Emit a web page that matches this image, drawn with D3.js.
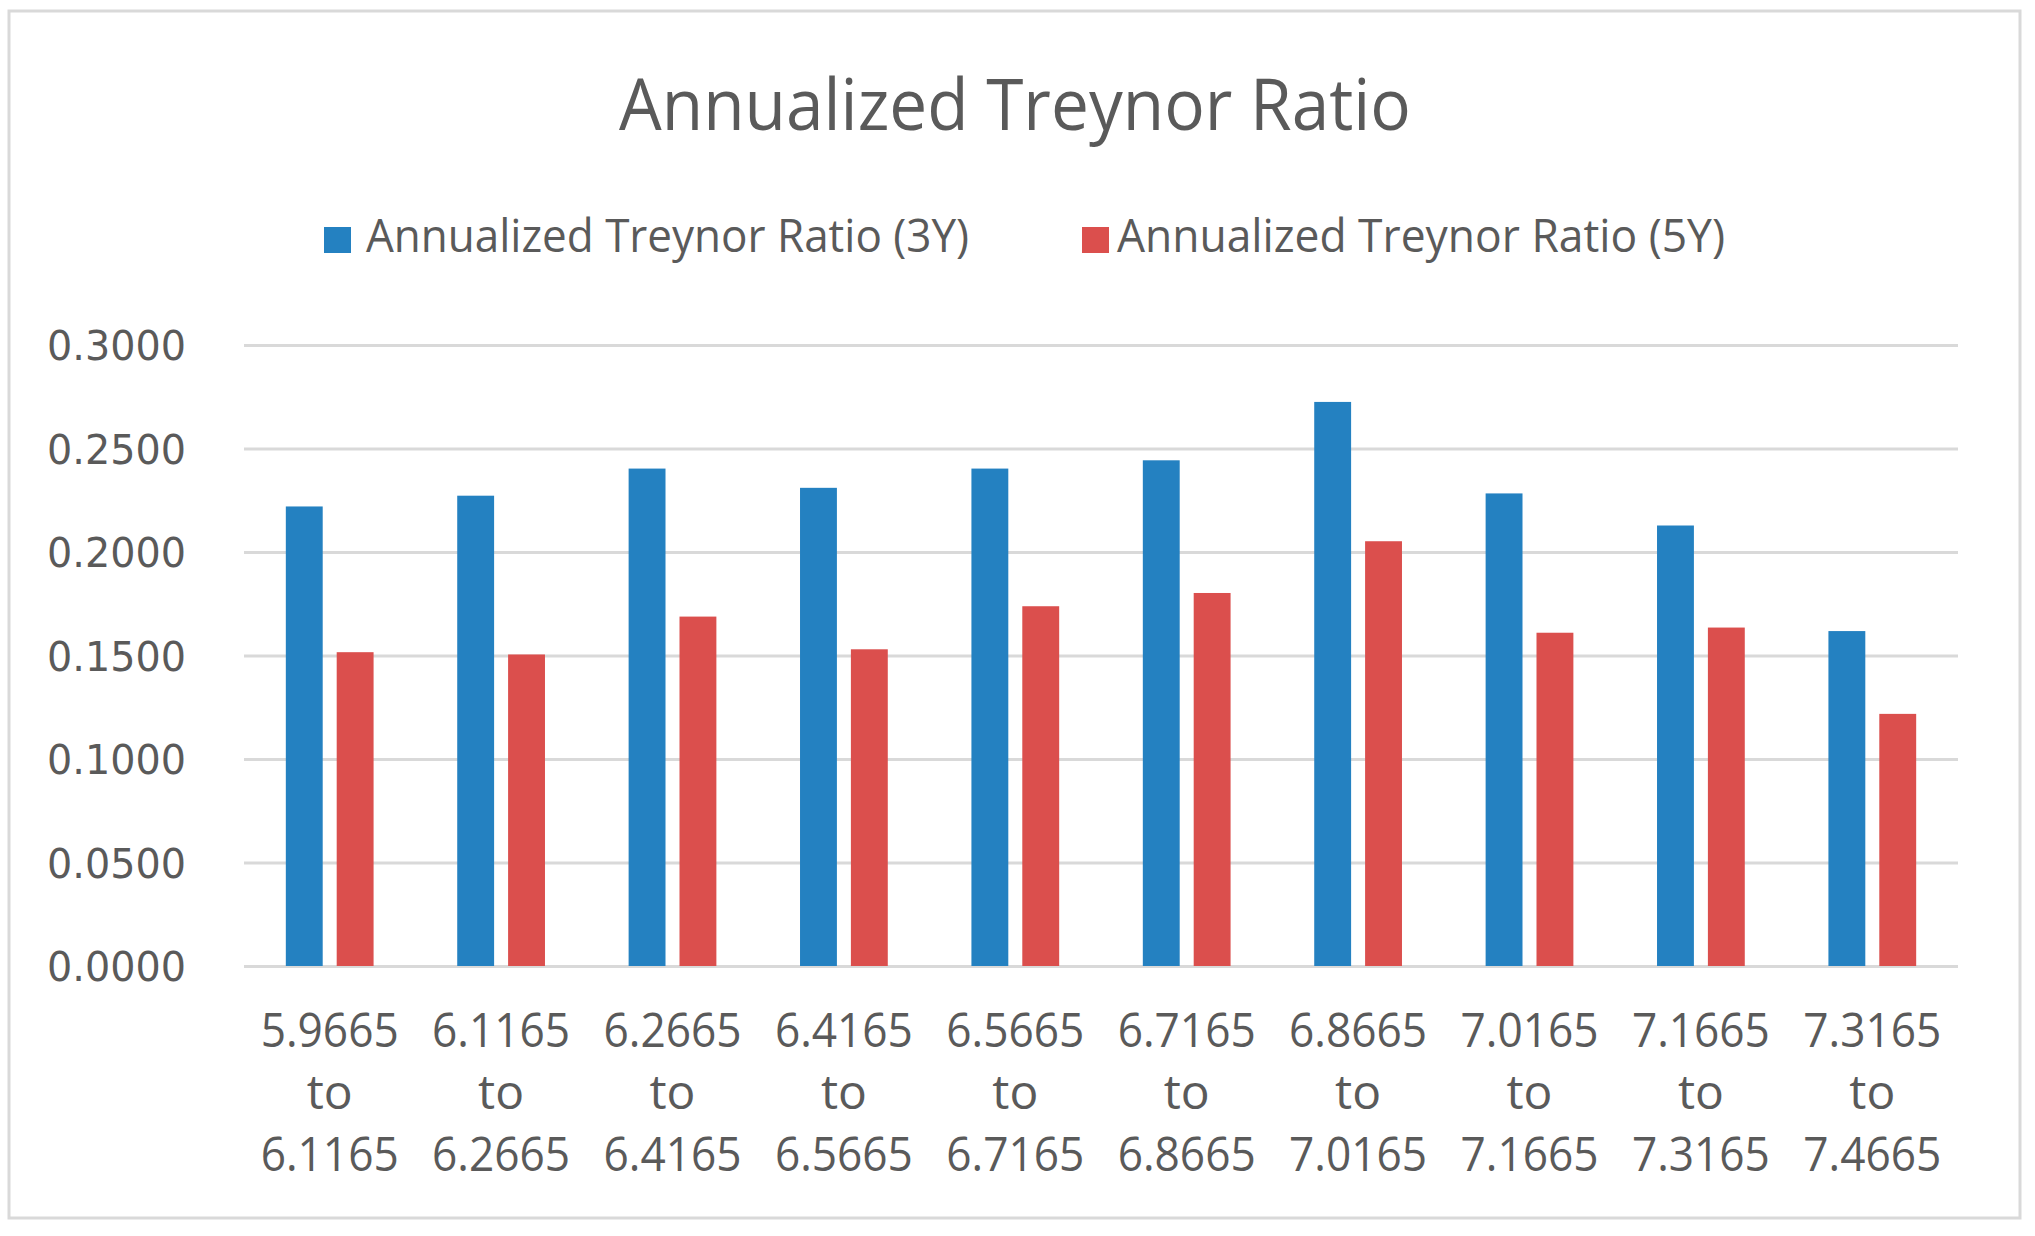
<!DOCTYPE html>
<html>
<head>
<meta charset="utf-8">
<script src="https://cdn.jsdelivr.net/npm/d3@7"></script>
<style>
  html, body { margin: 0; padding: 0; background: #fff; }
  svg { display: block; }
</style>
</head>
<body>
<div id="chart"></div>
<script>
// data
const categories = [
  ['5.9665', 'to', '6.1165'],
  ['6.1165', 'to', '6.2665'],
  ['6.2665', 'to', '6.4165'],
  ['6.4165', 'to', '6.5665'],
  ['6.5665', 'to', '6.7165'],
  ['6.7165', 'to', '6.8665'],
  ['6.8665', 'to', '7.0165'],
  ['7.0165', 'to', '7.1665'],
  ['7.1665', 'to', '7.3165'],
  ['7.3165', 'to', '7.4665']
];
const seriesNames = ['Annualized Treynor Ratio (3Y)', 'Annualized Treynor Ratio (5Y)'];
const values3Y = [0.2220, 0.2272, 0.2403, 0.2310, 0.2403, 0.2443, 0.2725, 0.2283, 0.2128, 0.1618];
const values5Y = [0.1516, 0.1505, 0.1688, 0.1530, 0.1738, 0.1802, 0.2052, 0.1610, 0.1635, 0.1218];
const yTicks = [0, 0.05, 0.1, 0.15, 0.2, 0.25, 0.3];
const colors = ['#2481c1', '#db4f4d'];

const width = 2035, height = 1236;
const margin = { top: 345, right: 77, bottom: 270, left: 244 };
const textColor = '#5a5a5a';
const gridColor = '#d9d9d9';

const svg = d3.select('#chart')
  .append('svg')
  .attr('width', width)
  .attr('height', height);

// outer chart border
svg.append('rect')
  .attr('x', 9).attr('y', 11)
  .attr('width', 2011).attr('height', 1207)
  .attr('fill', '#fff')
  .attr('stroke', gridColor)
  .attr('stroke-width', 3);

const x0 = d3.scaleBand()
  .domain(d3.range(categories.length))
  .range([margin.left, width - margin.right])
  .paddingInner(0.488)
  .paddingOuter(0.244);

const x1 = d3.scaleBand()
  .domain([0, 1])
  .range([0, x0.bandwidth()])
  .paddingInner(0.275);

const y = d3.scaleLinear()
  .domain([0, 0.3])
  .range([height - margin.bottom, margin.top]);

// fit a text element to a target width by stretching glyphs
const fit = (sel, w) => sel.attr('textLength', w).attr('lengthAdjust', 'spacingAndGlyphs');

// gridlines + y labels
const yAxis = svg.append('g')
  .attr('transform', `translate(${margin.left},0)`)
  .call(d3.axisLeft(y)
    .tickValues(yTicks)
    .tickSize(-(width - margin.left - margin.right))
    .tickPadding(58)
    .tickFormat(d3.format('.4f')));
yAxis.select('.domain').remove();
yAxis.selectAll('.tick line')
  .attr('stroke', gridColor)
  .attr('stroke-width', 3);
yAxis.selectAll('.tick text')
  .attr('fill', textColor)
  .style('font-family', '"DejaVu Sans", sans-serif')
  .style('font-size', '41px')
  .attr('dy', '0.36em')
  .call(fit, 139);

// bars
const groups = svg.append('g')
  .selectAll('g')
  .data(categories.map((c, i) => [values3Y[i], values5Y[i]]))
  .join('g')
  .attr('transform', (d, i) => `translate(${x0(i)},0)`);

groups.selectAll('rect')
  .data(d => d)
  .join('rect')
  .attr('x', (d, j) => x1(j))
  .attr('y', d => y(d))
  .attr('width', x1.bandwidth())
  .attr('height', d => y(0) - y(d))
  .attr('fill', (d, j) => colors[j]);

// x labels (three lines each)
const lineBase = [1047, 1109, 1171];
const xLabels = svg.append('g')
  .selectAll('g')
  .data(categories)
  .join('g');
xLabels.each(function (lines, i) {
  const g = d3.select(this);
  const cx = x0(i) + x0.bandwidth() / 2;
  lines.forEach((t, k) => {
    g.append('text')
      .attr('x', cx)
      .attr('y', lineBase[k])
      .attr('text-anchor', 'middle')
      .attr('fill', textColor)
      .style('font-family', '"Open Sans", sans-serif')
      .style('font-size', '48px')
      .text(t)
      .call(s => { if (t !== 'to') fit(s, 138); });
  });
});

// title
svg.append('text')
  .attr('x', 1015)
  .attr('y', 130)
  .attr('text-anchor', 'middle')
  .attr('fill', textColor)
  .style('font-family', '"Open Sans", sans-serif')
  .style('font-size', '71px')
  .text('Annualized Treynor Ratio')
  .call(fit, 792);

// legend
const legendItems = [
  { sx: 324, tx: 366, tw: 603 },
  { sx: 1082, tx: 1117, tw: 608 }
];
const legend = svg.append('g')
  .selectAll('g')
  .data(seriesNames)
  .join('g');
legend.append('rect')
  .attr('x', (d, i) => legendItems[i].sx)
  .attr('y', 227)
  .attr('width', 27)
  .attr('height', 26)
  .attr('fill', (d, i) => colors[i]);
legend.append('text')
  .attr('x', (d, i) => legendItems[i].tx)
  .attr('y', 252)
  .attr('fill', textColor)
  .style('font-family', '"Open Sans", sans-serif')
  .style('font-size', '46px')
  .text(d => d)
  .each(function (d, i) { fit(d3.select(this), legendItems[i].tw); });
</script>
</body>
</html>
